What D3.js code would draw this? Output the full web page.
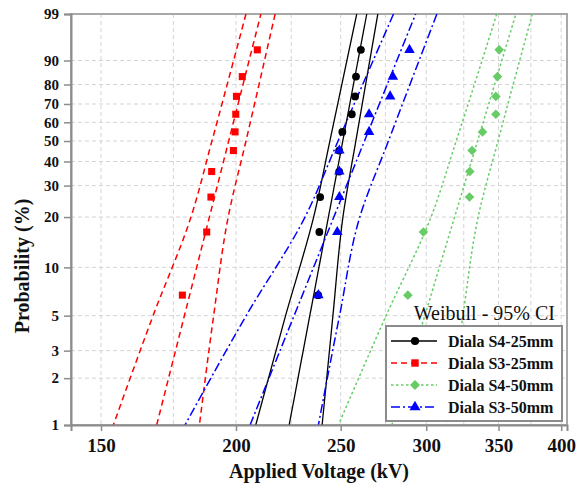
<!DOCTYPE html>
<html><head><meta charset="utf-8">
<script src="https://cdn.jsdelivr.net/npm/d3@7"></script>
<style>body{margin:0;background:#fff}svg{display:block}</style>
</head><body><svg id="chart" width="577" height="485"></svg>
<script>
// ---------- data ----------
const seriesNames = ["Diala S4-25mm", "Diala S3-25mm", "Diala S4-50mm", "Diala S3-50mm"];
// median-rank probabilities (%) of the 10 ordered breakdown voltages
const rankProbs = [6.73, 16.35, 25.96, 35.58, 45.19, 54.81, 64.42, 74.04, 83.65, 93.27];
// breakdown voltages (kV), ordered
const s4_25mm = [238.3, 238.9, 239.3, 249.2, 249.2, 250.9, 256.0, 257.8, 258.3, 261.0];
const s3_25mm = [178.4, 187.9, 189.6, 189.9, 198.9, 199.6, 199.9, 200.2, 202.7, 209.3];
const s4_50mm = [288.5, 298.2, 329.0, 329.2, 330.8, 338.2, 348.0, 348.0, 349.2, 350.5];
const s3_50mm = [238.4, 248.2, 249.3, 249.3, 249.3, 265.6, 265.6, 277.8, 279.4, 289.5];
// fitted Weibull lines: voltage at 1 % and 99 %
const fitProbs = [1, 99];
const s4_25mmFit = [224.0, 264.3];
const s3_25mmFit = [168.9, 210.9];
const s4_50mmFit = [278.8, 363.2];
const s3_50mmFit = [206.1, 293.3];
// 95 % confidence bounds: voltage at these probabilities (%)
const ciProbs = [99, 50, 20, 5, 1];
const s4_25mmLower = [258.7, 244.3, 236.0, 222.3, 208.6];
const s4_25mmUpper = [270.6, 258.2, 251.2, 245.9, 240.3];
const s3_25mmLower = [204.3, 190.0, 181.7, 167.6, 154.0];
const s3_25mmUpper = [217.4, 204.3, 196.7, 190.7, 185.0];
const s4_50mmLower = [348.7, 319.8, 303.1, 275.4, 248.8];
const s4_50mmUpper = [376.2, 349.6, 335.1, 324.4, 313.5];
const s3_50mmLower = [279.8, 248.6, 231.7, 204.4, 179.4];
const s3_50mmUpper = [306.9, 276.8, 260.4, 249.4, 238.4];
// axes
const xTicks = [150, 200, 250, 300, 350, 400];
const xGridValues = [150, 175, 200, 225, 250, 275, 300, 325, 350, 375, 400];
const yTicks = [1, 2, 3, 5, 10, 20, 30, 40, 50, 60, 70, 80, 90, 99];
const xTitle = "Applied Voltage (kV)";
const yTitle = "Probability (%)";
const legendTitle = "Weibull - 95% CI";

// ---------- layout ----------
const W = 577, H = 485;
const L = 71, R = 567, T = 14, B = 425;
const FONT = "'Liberation Serif','Times New Roman',Times,serif";

const series = [
  {name: seriesNames[0], v: s4_25mm, fit: s4_25mmFit, lo: s4_25mmLower, hi: s4_25mmUpper,
   color: "#000000", dash: null, width: 1.3, symbol: "circle"},
  {name: seriesNames[1], v: s3_25mm, fit: s3_25mmFit, lo: s3_25mmLower, hi: s3_25mmUpper,
   color: "#ff0000", dash: "6,4", width: 1.5, symbol: "square"},
  {name: seriesNames[2], v: s4_50mm, fit: s4_50mmFit, lo: s4_50mmLower, hi: s4_50mmUpper,
   color: "#66cc66", dash: "2.5,2.5", width: 1.5, symbol: "diamond"},
  {name: seriesNames[3], v: s3_50mm, fit: s3_50mmFit, lo: s3_50mmLower, hi: s3_50mmUpper,
   color: "#0000ff", dash: "9,3,2,3", width: 1.5, symbol: "triangle"}
];

const svg = d3.select("#chart");
svg.append("rect").attr("width", W).attr("height", H).attr("fill", "#fff");

const x = d3.scaleLog().domain([140.7, 405]).range([L, R]);
const wTrans = p => Math.log(-Math.log(1 - p / 100));
const yLin = d3.scaleLinear().domain([wTrans(1), wTrans(99)]).range([B, T]);
const y = p => yLin(wTrans(p));

// grid
const grid = svg.append("g").attr("stroke", "#d4d4d4").attr("stroke-width", 1).attr("stroke-dasharray", "4,3");
grid.selectAll("line.h").data(yTicks.filter(p => p > 1 && p < 99)).join("line")
  .attr("x1", L).attr("x2", R).attr("y1", d => y(d)).attr("y2", d => y(d));
grid.selectAll("line.v").data(xGridValues).join("line")
  .attr("x1", d => x(d)).attr("x2", d => x(d)).attr("y1", T).attr("y2", B);

// frame
svg.append("rect").attr("x", L).attr("y", T).attr("width", R - L).attr("height", B - T)
  .attr("fill", "none").attr("stroke", "#a8a8a8").attr("stroke-width", 2);

// clip
svg.append("clipPath").attr("id", "clip").append("rect")
  .attr("x", L).attr("y", T).attr("width", R - L).attr("height", B - T);
const plot = svg.append("g").attr("clip-path", "url(#clip)");

const lineGen = d3.line().x(d => x(d[0])).y(d => y(d[1]));
const curveGen = d3.line().x(d => x(d[0])).y(d => y(d[1])).curve(d3.curveMonotoneY);

function symbolPath(type, s) {
  if (type === "circle") return d3.symbol(d3.symbolCircle, 48 * s)();
  if (type === "square") return d3.symbol(d3.symbolSquare, 50 * s)();
  if (type === "diamond") return d3.symbol(d3.symbolSquare, 46 * s)();
  return d3.symbol(d3.symbolTriangle, 48 * s)();
}
function symbolRot(type) { return type === "diamond" ? " rotate(45)" : ""; }

series.forEach(s => {
  const g = plot.append("g");
  const style = sel => sel.attr("fill", "none").attr("stroke", s.color).attr("stroke-width", s.width)
    .attr("stroke-dasharray", s.dash);
  // fitted line
  g.append("path").datum(fitProbs.map((p, i) => [s.fit[i], p])).attr("d", lineGen).call(style);
  // confidence bounds
  [s.lo, s.hi].forEach(b => {
    g.append("path").datum(ciProbs.map((p, i) => [b[i], p])).attr("d", curveGen).call(style);
  });
});
series.forEach(s => {
  plot.append("g").selectAll("path").data(s.v.map((v, i) => [v, rankProbs[i]])).join("path")
    .attr("d", symbolPath(s.symbol, 1))
    .attr("transform", d => `translate(${x(d[0])},${y(d[1])})` + symbolRot(s.symbol))
    .attr("fill", s.color);
});

// axes
const xAxis = svg.append("g").attr("transform", `translate(0,${B})`)
  .call(d3.axisBottom(x).tickValues(xTicks).tickFormat(d3.format("d")).tickSize(6).tickPadding(8));
xAxis.select(".domain").attr("stroke", "#8c8c8c").attr("stroke-width", 2);
xAxis.selectAll(".tick line").attr("stroke", "#8c8c8c").attr("stroke-width", 1.5);
xAxis.selectAll(".tick text").attr("font-family", FONT).attr("font-weight", "bold")
  .attr("font-size", 19).attr("fill", "#111");

const yAxis = svg.append("g").attr("transform", `translate(${L},0)`)
  .call(d3.axisLeft(yLin).tickValues(yTicks.map(wTrans))
    .tickFormat((d, i) => yTicks[i]).tickSize(7).tickPadding(5));
yAxis.select(".domain").attr("stroke", "#8c8c8c").attr("stroke-width", 2);
yAxis.selectAll(".tick line").attr("stroke", "#8c8c8c").attr("stroke-width", 1.5);
yAxis.selectAll(".tick text").attr("font-family", FONT).attr("font-weight", "bold")
  .attr("font-size", 15).attr("fill", "#111");

// titles
svg.append("text").attr("x", (L + R) / 2).attr("y", 478).attr("text-anchor", "middle")
  .attr("font-family", FONT).attr("font-weight", "bold").attr("font-size", 20).attr("fill", "#111")
  .text(xTitle);
svg.append("text").attr("transform", "translate(29,266) rotate(-90)").attr("text-anchor", "middle")
  .attr("font-family", FONT).attr("font-weight", "bold").attr("font-size", 20).attr("fill", "#111")
  .text(yTitle);

// legend
svg.append("text").attr("x", 555).attr("y", 320).attr("text-anchor", "end")
  .attr("font-family", FONT).attr("font-size", 20).attr("fill", "#111").text(legendTitle);
const lg = svg.append("g");
lg.append("rect").attr("x", 386).attr("y", 326).attr("width", 176).attr("height", 95)
  .attr("fill", "#fff").attr("stroke", "#8c8c8c").attr("stroke-width", 2);
series.forEach((s, i) => {
  const cy = 341 + i * 22;
  lg.append("line").attr("x1", 391).attr("x2", 437).attr("y1", cy).attr("y2", cy)
    .attr("stroke", s.color).attr("stroke-width", s.width).attr("stroke-dasharray", s.dash);
  lg.append("path").attr("d", symbolPath(s.symbol, 1.1))
    .attr("transform", `translate(415,${cy})` + symbolRot(s.symbol)).attr("fill", s.color);
  lg.append("text").attr("x", 448).attr("y", cy + 5.5)
    .attr("font-family", FONT).attr("font-weight", "bold").attr("font-size", 16).attr("fill", "#111")
    .text(s.name);
});
</script></body></html>
